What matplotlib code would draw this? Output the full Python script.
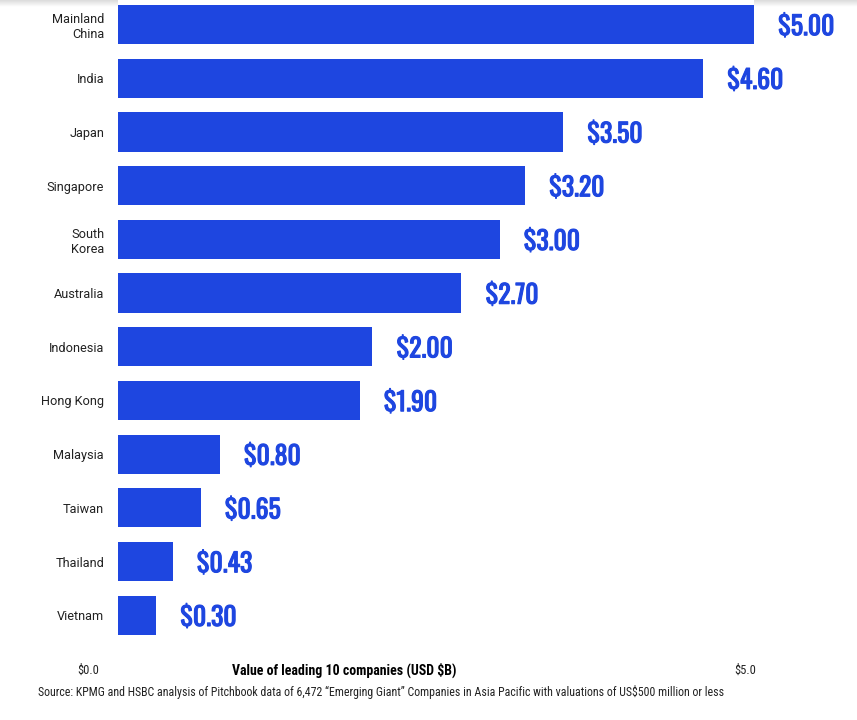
import numpy as np
import matplotlib.pyplot as plt
import matplotlib.patheffects as pe

# Datos
paises = ['Mainland\nChina', 'India', 'Japan', 'Singapore', 'South\nKorea', 'Australia',
          'Indonesia', 'Hong Kong', 'Malaysia', 'Taiwan', 'Thailand', 'Vietnam']
valores = [5.00, 4.60, 3.50, 3.20, 3.00, 2.70, 2.00, 1.90, 0.80, 0.65, 0.43, 0.30]
etiquetas_x = ['$0.0', '$5.0']

azul = '#1E46E0'
gris = '#222222'
estrecha = ['Roboto Condensed', 'DejaVu Sans']
cifras = ['Oswald', 'DejaVu Sans']

fig = plt.figure(figsize=(8.57, 7.2), dpi=100)

# Sombra suave en el borde superior
sombra = fig.add_axes([0, 1 - 7 / 720, 1, 7 / 720])
sombra.imshow(np.linspace(0.86, 1.0, 20).reshape(-1, 1), cmap='gray', vmin=0, vmax=1,
              aspect='auto', extent=[0, 1, 0, 1])
sombra.axis('off')

ax = fig.add_axes([118 / 857, 80 / 720, 636 / 857, 640 / 720])

y = list(range(len(paises)))
ax.barh(y, valores, height=0.73, color=azul)
ax.set_xlim(0, 5)
ax.set_ylim(11.46, -0.456)

for yi, v in zip(y, valores):
    ax.text(v + 0.19, yi + 0.05, f'${v:.2f}', va='center', ha='left', color=azul,
            fontsize=18.5, family=cifras, clip_on=False,
            path_effects=[pe.withStroke(linewidth=0.8, foreground=azul)])

ax.set_yticks(y)
ax.set_yticklabels(paises, fontsize=9.2, color=gris, linespacing=1.2, family=['Roboto', 'DejaVu Sans'])
ax.tick_params(axis='y', length=0, pad=10)
ax.set_xticks([])
for s in ax.spines.values():
    s.set_visible(False)

# Etiquetas del eje x
fig.text(88 / 857, 1 - 670 / 720, etiquetas_x[0], ha='center', va='center',
         fontsize=9, color=gris, family=estrecha)
fig.text(745 / 857, 1 - 670 / 720, etiquetas_x[1], ha='center', va='center',
         fontsize=9, color=gris, family=estrecha)
fig.text(344 / 857, 1 - 670 / 720, 'Value of leading 10 companies (USD $B)', ha='center',
         va='center', fontsize=10, fontweight='bold', color='black', family=estrecha)
fig.text(38 / 857, 1 - 692 / 720,
         'Source: KPMG and HSBC analysis of Pitchbook data of 6,472 \u201cEmerging Giant\u201d '
         'Companies in Asia Pacific with valuations of US$500 million or less',
         ha='left', va='center', fontsize=8.55, color=gris, family=estrecha)

fig.savefig('out.png', dpi=100)
